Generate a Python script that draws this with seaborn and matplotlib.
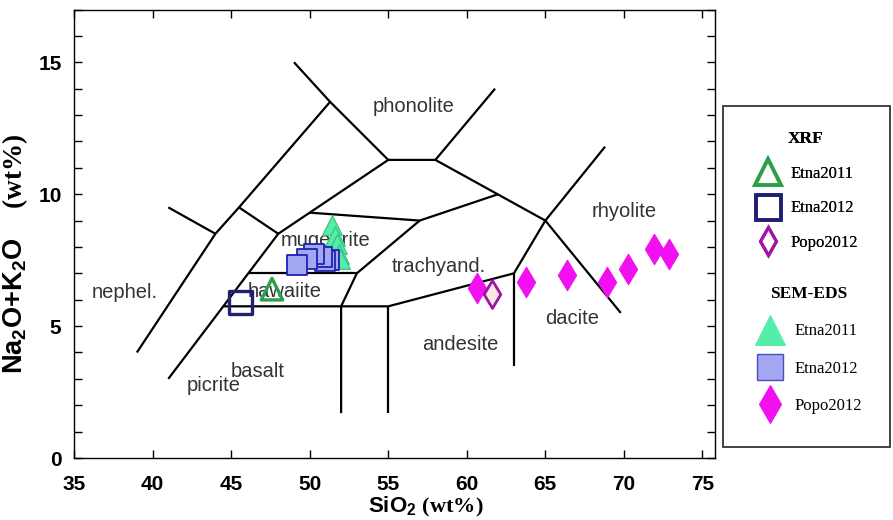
import matplotlib
matplotlib.use("Agg")
import matplotlib.pyplot as plt
import seaborn as sns
import pandas as pd
from matplotlib.lines import Line2D
from matplotlib.patches import Rectangle
from matplotlib.ticker import MultipleLocator
from matplotlib.font_manager import FontProperties

# ---------------- data ----------------
xrf_etna2011_sio2 = [47.6]
xrf_etna2011_alk = [6.4]
xrf_etna2012_sio2 = [45.6]
xrf_etna2012_alk = [5.9]
xrf_popo2012_sio2 = [61.6]
xrf_popo2012_alk = [6.2]

sem_etna2011_sio2 = [51.4, 51.6, 51.72, 51.85, 51.92]
sem_etna2011_alk = [8.85, 8.42, 8.1, 7.75, 7.55]
sem_etna2012_sio2 = [51.2, 51.0, 50.8, 50.25, 49.8, 49.2]
sem_etna2012_alk = [7.5, 7.45, 7.62, 7.74, 7.55, 7.32]
sem_popo2012_sio2 = [60.65, 63.8, 66.4, 68.9, 70.27, 71.9, 72.86]
sem_popo2012_alk = [6.44, 6.69, 6.92, 6.67, 7.15, 7.94, 7.73]

# TAS field boundaries (SiO2, Na2O+K2O vertices)
boundaries = [
    [(39, 4.0), (44, 8.5), (45.5, 9.5), (51.3, 13.5)],
    [(41, 9.5), (44, 8.5)],
    [(45.5, 9.5), (48, 8.5)],
    [(41, 3.0), (48, 8.5), (55, 11.3), (58, 11.3), (65, 9.0), (69.8, 5.5)],
    [(49, 15.0), (51.3, 13.5), (55, 11.3)],
    [(58, 11.3), (61.8, 14.0)],
    [(50, 9.3), (57, 9.0), (62, 10.0)],
    [(57, 9.0), (53, 7.0), (52, 5.75), (52, 1.7)],
    [(46.1, 7.0), (53, 7.0)],
    [(44.5, 5.75), (55, 5.75), (63, 7.0), (65, 9.0), (68.8, 11.8)],
    [(55, 5.75), (55, 1.7)],
    [(63, 7.0), (63, 3.5)],
]

field_names = ["phonolite", "rhyolite", "dacite", "andesite", "trachyand.",
               "mugearite", "hawaiite", "nephel.", "basalt", "picrite"]
field_x = [56.6, 70.0, 66.7, 59.6, 58.2, 51.0, 48.4, 38.2, 46.7, 43.9]
field_y = [13.33, 9.35, 5.3, 4.29, 7.26, 8.25, 6.31, 6.27, 3.28, 2.73]

x_ticks = [35, 40, 45, 50, 55, 60, 65, 70, 75]
y_ticks = [0, 5, 10, 15]

# ---------------- style ----------------
sns.set_style("ticks")
plt.rcParams["font.family"] = ["Liberation Sans", "DejaVu Sans"]
plt.rcParams["mathtext.fontset"] = "custom"
plt.rcParams["mathtext.rm"] = "Liberation Serif:bold"
plt.rcParams["mathtext.default"] = "regular"
plt.rcParams["text.color"] = "black"
plt.rcParams["axes.labelcolor"] = "black"
plt.rcParams["xtick.color"] = "black"
plt.rcParams["ytick.color"] = "black"

fig = plt.figure(figsize=(8.93, 5.2), dpi=100)
ax = fig.add_axes([0.0829, 0.1192, 0.7178, 0.8625])

for seg in boundaries:
    xs = [p[0] for p in seg]
    ys = [p[1] for p in seg]
    ax.plot(xs, ys, color="black", lw=1.6, solid_capstyle="butt", zorder=1)

for name, fx, fy in zip(field_names, field_x, field_y):
    ax.text(fx, fy, name, ha="center", va="center", fontsize=14.5,
            color="#333333", family="Liberation Sans", zorder=2)

# colours
c_open_tri = "#2aa04a"
c_open_sq = "#1e2270"
c_open_dia = "#a015a5"
c_fill_tri = "#55eea8"
c_fill_tri_e = "#3cc284"
c_fill_sq = "#a3a6f0"
c_fill_sq_e = "#1f22b0"
c_fill_dia = "#f010f0"

sns.scatterplot(x=sem_etna2011_sio2, y=sem_etna2011_alk, marker="^", s=200,
                color=c_fill_tri, edgecolor=c_fill_tri_e, linewidth=0.9,
                ax=ax, zorder=3, legend=False)
sns.scatterplot(x=sem_etna2012_sio2, y=sem_etna2012_alk, marker="s", s=210,
                color=c_fill_sq, edgecolor=c_fill_sq_e, linewidth=1.3,
                ax=ax, zorder=4, legend=False)
sns.scatterplot(x=sem_popo2012_sio2, y=sem_popo2012_alk, marker="d", s=240,
                color=c_fill_dia, edgecolor=c_fill_dia, linewidth=0.8,
                ax=ax, zorder=4, legend=False)
sns.scatterplot(x=xrf_etna2011_sio2, y=xrf_etna2011_alk, marker="^", s=240,
                facecolor="none", edgecolor=c_open_tri, linewidth=2.4,
                ax=ax, zorder=5, legend=False)
sns.scatterplot(x=xrf_etna2012_sio2, y=xrf_etna2012_alk, marker="s", s=290,
                facecolor="none", edgecolor=c_open_sq, linewidth=2.4,
                ax=ax, zorder=5, legend=False)
sns.scatterplot(x=xrf_popo2012_sio2, y=xrf_popo2012_alk, marker="d", s=200,
                facecolor="#fbe8e0", edgecolor=c_open_dia, linewidth=2.0,
                ax=ax, zorder=5, legend=False)

ax.set_xlim(35, 75.8)
ax.set_ylim(0, 17)
ax.set_xticks(x_ticks)
ax.set_yticks(y_ticks)
ax.yaxis.set_minor_locator(MultipleLocator(1))
ax.tick_params(which="both", direction="in", top=True, right=True,
               length=6, width=1, color="black", labelcolor="black")
ax.tick_params(axis="x", pad=12)
ax.tick_params(axis="y", pad=9)
for lab in ax.get_xticklabels() + ax.get_yticklabels():
    lab.set_fontfamily("Liberation Sans")
    lab.set_fontweight("bold")
    lab.set_fontsize(15)
for sp in ax.spines.values():
    sp.set_color("black")
    sp.set_linewidth(1.0)

ax.set_xlabel("SiO$_2$ $\\mathrm{(wt\\%)}$", fontsize=16, fontweight="bold",
              family="Liberation Sans", color="black")
ax.xaxis.set_label_coords(0.549, -0.083)
ax.set_ylabel("Na$_2$O+K$_2$O    $\\mathrm{(wt\\%)}$", fontsize=19.5,
              fontweight="bold", family="Liberation Sans", color="black")
ax.yaxis.set_label_coords(-0.069, 0.455)

# ---------------- legend ----------------
lab_prop = FontProperties(family="Liberation Serif", size=12)
tit_prop = FontProperties(family="Liberation Serif", size=12.5, weight="bold")

h_xrf = [
    Line2D([], [], ls="none", marker="^", ms=19, mfc="none", mec=c_open_tri, mew=2.6),
    Line2D([], [], ls="none", marker="s", ms=18, mfc="none", mec=c_open_sq, mew=2.6),
    Line2D([], [], ls="none", marker="d", ms=14, mfc="none", mec=c_open_dia, mew=2.2),
]
h_sem = [
    Line2D([], [], ls="none", marker="^", ms=21, mfc=c_fill_tri, mec=c_fill_tri, mew=0.8),
    Line2D([], [], ls="none", marker="s", ms=19, mfc=c_fill_sq, mec="#4a4ec0", mew=1.0),
    Line2D([], [], ls="none", marker="d", ms=19, mfc=c_fill_dia, mec=c_fill_dia, mew=0.8),
]
names = ["Etna2011", "Etna2012", "Popo2012"]

leg1 = fig.legend(h_xrf, names, title="XRF", loc="upper left",
                  bbox_to_anchor=(753 / 893, 1 - 131 / 520), frameon=False,
                  prop=lab_prop, title_fontproperties=tit_prop,
                  handlelength=1.8, handletextpad=0.45, labelspacing=1.12,
                  borderpad=0, borderaxespad=0)
leg2 = fig.legend(h_sem, names, title="SEM-EDS", loc="upper left",
                  bbox_to_anchor=(755 / 893, 1 - 286 / 520), frameon=False,
                  prop=lab_prop, title_fontproperties=tit_prop,
                  handlelength=1.8, handletextpad=0.6, labelspacing=1.28,
                  borderpad=0, borderaxespad=0)
fig.add_artist(leg1)

fig.add_artist(Rectangle((723 / 893, 1 - 447 / 520), (890 - 723) / 893,
                         (447 - 106) / 520, transform=fig.transFigure,
                         fill=False, edgecolor="#222222", lw=1.2))

fig.savefig("out.png", dpi=100, facecolor="white")
